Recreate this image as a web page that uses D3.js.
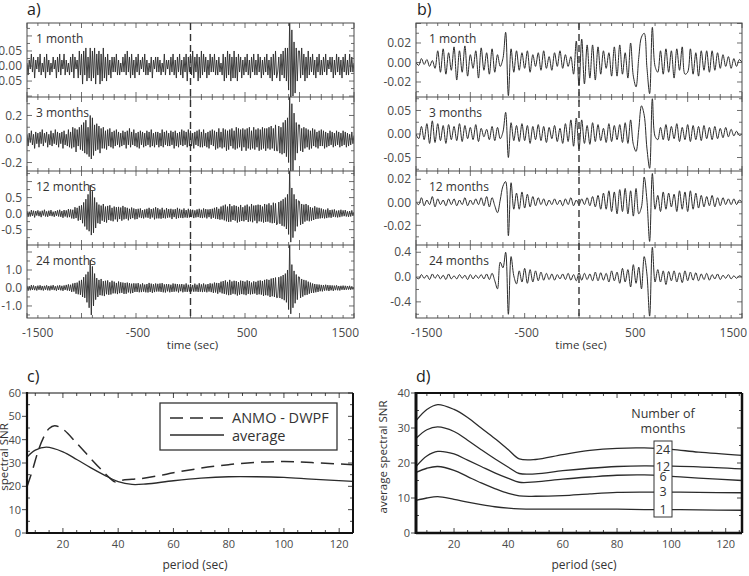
<!DOCTYPE html>
<html><head><meta charset="utf-8">
<script src="https://cdn.jsdelivr.net/npm/d3@7"></script>
<style>
body{margin:0;background:#fff}
svg{display:block}
text{font-family:"Open Sans","Noto Sans",sans-serif}
</style>
</head><body>
<svg id="chart" width="749" height="576"></svg>
<script>
// ---------------- DATA ----------------
const rowLabels = ["1 month", "3 months", "12 months", "24 months"];
const timeTicks = [-1500, -500, 500, 1500];
const timeTickLabels = ["-1500", "-500", "500", "1500"];

const aDomains = [[-0.103, 0.143], [-0.272, 0.357], [-0.98, 1.33], [-1.67, 2.39]];
const aYTicks = [[-0.05, 0, 0.05], [-0.2, 0, 0.2], [-0.5, 0, 0.5], [-1, 0, 1]];
const aYDec = [2, 1, 1, 1];
const bDomains = [[-0.0354, 0.0405], [-0.0787, 0.0787], [-0.0371, 0.0272], [-0.66, 0.517]];
const bYTicks = [[-0.02, 0, 0.02], [-0.05, 0, 0.05], [-0.02, 0, 0.02], [-0.4, 0, 0.4]];
const bYDec = [2, 2, 2, 1];

const aTimes = d3.range(-1500, 1501, 10);
const bTimes = d3.range(-1500, 1501, 25);

// panel a) broadband cross-correlations (10 s samples)
const a1 = [
.01,-.03,.02,-.01,.04,-.02,.03,-.04,.02,-.01,
.03,-.02,.04,-.03,.01,-.02,.03,-.04,.04,-.02,
.02,-.03,.01,-.02,.03,-.01,.02,-.04,.03,-.02,
.04,-.03,.02,-.01,.04,-.03,.02,-.02,.01,-.03,
.03,-.02,.04,-.04,.03,-.01,.02,-.04,.05,-.03,
.04,-.06,.05,-.03,.06,-.05,.03,-.04,.06,-.05,
.05,-.04,.06,-.06,.04,-.03,.05,-.06,.04,-.05,
.06,-.04,.03,-.05,.04,-.03,.02,-.04,.03,-.02,
.03,-.02,.04,-.03,.02,-.03,.01,-.02,.03,-.02,
.04,-.03,.05,-.02,.03,-.04,.04,-.03,.02,-.04,
.03,-.02,.04,-.03,.02,-.01,.03,-.02,.04,-.03,
.02,-.03,.01,-.02,.03,-.04,.02,-.01,.03,-.02,
.03,-.02,.02,-.03,.01,-.02,.04,-.03,.02,-.01,
.02,-.03,.03,-.02,.04,-.03,.02,-.04,.03,-.02,
.04,-.03,.02,-.04,.03,-.02,.04,-.05,.03,-.02,
.04,-.03,.05,-.04,.03,-.02,.04,-.05,.03,-.04,
.05,-.03,.04,-.02,.03,-.04,.02,-.03,.04,-.02,
.03,-.02,.04,-.03,.02,-.03,.03,-.02,.01,-.03,
.04,-.05,.03,-.04,.05,-.03,.04,-.05,.03,-.04,
.05,-.04,.03,-.05,.04,-.02,.03,-.04,.02,-.03,
.03,-.02,.04,-.03,.02,-.04,.03,-.02,.04,-.03,
.02,-.03,.04,-.02,.03,-.04,.02,-.03,.03,-.02,
.04,-.03,.02,-.04,.03,-.05,.04,-.03,.05,-.04,
-.02,.03,-.05,.04,-.03,.05,-.04,.06,-.05,.06,
-.08,.16,-.11,.12,-.10,.08,-.09,.06,-.05,.05,
.05,-.04,.06,-.03,.04,-.05,.03,-.04,.05,-.03,
.03,-.02,.04,-.03,.02,-.04,.03,-.02,.04,-.03,
.02,-.03,.03,-.02,.04,-.03,.02,-.01,.03,-.02,
.03,-.04,.02,-.03,.04,-.02,.03,-.03,.02,-.04,
.03,-.02,.04,-.03,.02,-.03,.04,-.02,.03,-.02,
.01];
const a2 = [
.04,-.06,.05,-.03,.07,-.05,.04,-.08,.06,-.04,
.05,-.07,.06,-.04,.08,-.06,.05,-.03,.06,-.07,
.04,-.05,.07,-.06,.05,-.04,.08,-.05,.06,-.07,
.05,-.04,.06,-.08,.07,-.05,.04,-.06,.08,-.07,
.06,-.08,.10,-.07,.09,-.11,.08,-.06,.10,-.09,
.12,-.10,.14,-.12,.16,-.13,.10,-.15,.20,-.17,
.18,-.14,.12,-.10,.13,-.09,.11,-.12,.09,-.08,
.10,-.08,.07,-.09,.08,-.06,.09,-.07,.06,-.08,
.07,-.06,.08,-.05,.06,-.07,.05,-.06,.07,-.05,
.06,-.08,.07,-.05,.09,-.07,.06,-.05,.08,-.06,
.05,-.07,.06,-.08,.07,-.05,.06,-.07,.05,-.06,
.07,-.05,.06,-.07,.08,-.06,.05,-.07,.06,-.05,
.06,-.07,.05,-.06,.08,-.07,.06,-.05,.07,-.06,
.05,-.06,.07,-.05,.06,-.08,.07,-.06,.05,-.07,
.06,-.05,.08,-.06,.07,-.05,.06,-.07,.08,-.06,
.07,-.06,.05,-.08,.06,-.05,.07,-.06,.08,-.07,
.06,-.07,.08,-.06,.05,-.07,.06,-.08,.07,-.05,
.08,-.06,.07,-.09,.06,-.08,.09,-.07,.06,-.08,
.09,-.07,.08,-.10,.07,-.09,.08,-.06,.09,-.08,
.07,-.09,.10,-.08,.09,-.07,.08,-.10,.09,-.07,
.08,-.10,.09,-.08,.10,-.09,.07,-.08,.10,-.09,
.08,-.07,.09,-.10,.08,-.09,.10,-.08,.09,-.10,
.09,-.08,.10,-.09,.11,-.08,.09,-.10,.12,-.10,
-.10,.11,-.12,.10,-.13,.14,-.12,.16,-.15,.18,
-.20,.38,-.28,.30,-.27,.22,-.18,.14,-.12,.12,
.12,-.10,.09,-.11,.10,-.08,.09,-.07,.08,-.09,
.07,-.08,.09,-.06,.08,-.07,.06,-.08,.07,-.06,
.08,-.06,.07,-.08,.06,-.07,.05,-.06,.07,-.05,
.06,-.07,.05,-.06,.07,-.05,.06,-.07,.05,-.06,
.07,-.05,.06,-.07,.05,-.06,.04,-.05,.06,-.04,
.03];
const a3 = [
.08,-.10,.06,-.09,.11,-.07,.09,-.12,.08,-.06,
.10,-.08,.07,-.11,.09,-.06,.12,-.09,.07,-.10,
.09,-.07,.11,-.08,.06,-.10,.08,-.07,.10,-.09,
.12,-.10,.08,-.13,.11,-.09,.10,-.12,.14,-.11,
.13,-.15,.12,-.16,.20,-.14,.18,-.22,.24,-.20,
.26,-.30,.35,-.40,.45,-.50,.60,-.55,.89,-.67,
.70,-.60,.50,-.45,.35,-.30,.28,-.32,.25,-.22,
.30,-.26,.22,-.28,.24,-.20,.26,-.22,.18,-.24,
.22,-.18,.20,-.25,.21,-.17,.19,-.22,.24,-.18,
.20,-.16,.18,-.21,.15,-.17,.19,-.14,.16,-.18,
.14,-.17,.15,-.12,.16,-.14,.11,-.15,.13,-.12,
.15,-.13,.18,-.16,.14,-.12,.16,-.18,.20,-.15,
.17,-.15,.13,-.16,.18,-.14,.12,-.15,.17,-.13,
.14,-.12,.15,-.17,.13,-.11,.14,-.16,.18,-.14,
.15,-.13,.12,-.14,.16,-.12,.11,-.13,.15,-.12,
.13,-.11,.12,-.14,.10,-.12,.13,-.11,.15,-.13,
.12,-.14,.16,-.12,.14,-.15,.13,-.11,.14,-.16,
.15,-.13,.18,-.16,.20,-.17,.15,-.19,.22,-.18,
.25,-.21,.28,-.24,.22,-.26,.30,-.25,.23,-.20,
.26,-.22,.24,-.28,.21,-.25,.27,-.23,.20,-.24,
.25,-.20,.28,-.26,.22,-.24,.30,-.27,.25,-.22,
.26,-.30,.28,-.24,.27,-.25,.22,-.28,.30,-.26,
.28,-.25,.32,-.28,.26,-.30,.34,-.29,.32,-.35,
-.30,.36,-.32,.40,-.38,.45,-.40,.50,-.48,.60,
-.65,1.40,-.89,.80,-.75,.60,-.55,.45,-.40,.40,
.38,-.35,.30,-.32,.28,-.25,.30,-.22,.26,-.24,
.20,-.22,.18,-.20,.23,-.17,.19,-.16,.18,-.15,
.16,-.14,.13,-.15,.12,-.14,.16,-.12,.11,-.13,
.12,-.10,.13,-.11,.09,-.12,.10,-.11,.12,-.09,
.10,-.08,.11,-.09,.07,-.10,.08,-.09,.10,-.07,
.05];
const a4 = [
.12,-.15,.10,-.13,.16,-.11,.14,-.12,.10,-.14,
.13,-.10,.15,-.12,.11,-.14,.12,-.10,.15,-.13,
.11,-.14,.13,-.10,.16,-.12,.10,-.15,.13,-.11,
.15,-.13,.12,-.16,.14,-.11,.17,-.14,.20,-.16,
.18,-.22,.25,-.20,.28,-.32,.30,-.35,.40,-.38,
.45,-.50,.60,-.55,.75,-.80,.90,-1.10,1.55,-1.50,
1.20,-1.00,.80,-.65,.55,-.50,.45,-.40,.50,-.42,
.38,-.45,.40,-.35,.42,-.38,.32,-.36,.40,-.30,
.35,-.30,.28,-.34,.36,-.29,.32,-.27,.30,-.33,
.28,-.32,.30,-.25,.27,-.30,.24,-.28,.26,-.22,
.25,-.22,.27,-.24,.20,-.23,.26,-.21,.19,-.24,
.22,-.25,.28,-.22,.24,-.27,.21,-.23,.25,-.20,
.23,-.20,.25,-.22,.27,-.24,.20,-.25,.22,-.19,
.21,-.24,.18,-.22,.25,-.21,.23,-.19,.22,-.25,
.20,-.18,.22,-.24,.19,-.21,.25,-.22,.18,-.20,
.22,-.19,.17,-.21,.24,-.20,.18,-.22,.26,-.21,
.20,-.23,.25,-.21,.19,-.24,.22,-.20,.26,-.23,
.24,-.27,.30,-.25,.28,-.32,.27,-.24,.35,-.30,
.38,-.33,.42,-.36,.34,-.40,.45,-.38,.36,-.32,
.40,-.35,.38,-.42,.33,-.37,.41,-.34,.39,-.36,
.35,-.40,.42,-.33,.38,-.36,.30,-.34,.37,-.31,
.34,-.38,.40,-.35,.42,-.37,.39,-.44,.45,-.40,
.48,-.42,.45,-.50,.52,-.46,.55,-.50,.58,-.54,
-.52,.60,-.56,.65,-.62,.72,-.68,.80,-.80,1.00,
-1.20,2.50,-1.44,1.30,-1.10,.95,-.85,.75,-.65,.62,
.60,-.55,.50,-.48,.45,-.40,.42,-.38,.35,-.32,
.30,-.28,.25,-.27,.22,-.24,.20,-.22,.19,-.18,
.17,-.19,.16,-.15,.18,-.14,.16,-.17,.15,-.13,
.14,-.16,.13,-.12,.15,-.13,.11,-.14,.12,-.10,
.13,-.11,.12,-.10,.11,-.09,.12,-.10,.09,-.08,
.05];

// panel b) filtered cross-correlations (25 s samples)
const b1 = [
0,-.003,.004,-.002,.003,-.004,.002,-.006,.012,-.010,
.014,-.012,.010,-.008,.016,-.018,.012,-.010,.017,-.014,
.008,-.006,.012,-.016,.015,-.008,.010,-.012,.014,-.010,
.008,-.004,.004,.031,-.034,.014,-.010,.012,-.008,.010,
-.006,.012,-.010,.008,-.004,.010,-.008,.012,-.006,.006,
-.008,.010,-.004,.012,-.006,.008,-.004,.006,-.012,.022,
-.024,.024,-.022,.018,-.016,.018,-.018,.016,-.012,.012,
-.006,.010,-.014,.016,-.014,.018,-.012,.010,-.016,.020,
-.014,-.025,.005,.026,.030,-.005,-.032,.036,-.004,-.010,
.012,-.012,.014,-.010,.012,-.016,.014,-.008,.016,-.012,
-.010,.014,-.012,.010,-.014,.012,-.008,.012,-.010,.012,
-.008,.010,-.006,.008,-.004,.006,-.006,.004,-.004,.003,
0];
const b2 = [
0,-.010,.016,-.012,.022,-.020,.028,-.018,.022,-.014,
.018,-.020,.020,-.012,.016,-.014,.022,-.016,.018,-.010,
.014,-.012,.020,-.016,.012,-.006,.010,-.012,.016,-.014,
.014,-.010,.004,.046,-.050,.024,-.014,.018,-.016,.022,
-.014,.018,-.020,.016,-.012,.020,-.014,.016,-.018,.014,
-.010,.018,-.016,.012,-.020,.022,-.016,.030,-.026,.034,
-.032,.030,-.020,.018,-.022,.024,-.016,.020,-.014,.012,
-.018,.022,-.016,.018,-.012,.020,-.018,.024,-.020,.030,
-.022,-.037,.010,.060,.040,-.030,-.073,.075,-.005,-.012,
.014,-.012,.020,-.014,.016,-.010,.022,-.016,.014,-.012,
.020,-.016,.018,-.012,.016,-.014,.018,-.010,.014,-.012,
.016,-.010,.012,-.008,.014,-.006,.010,-.004,.006,-.003,
0];
const b3 = [
0,-.002,.004,-.003,.002,-.002,.005,-.004,.003,-.002,
.002,-.003,.003,-.002,.003,-.003,.002,-.002,.004,-.003,
.002,-.002,.003,-.002,.004,-.003,.005,-.004,.004,-.003,
-.009,.002,.014,.018,-.029,.017,-.006,.008,-.006,.009,
-.005,.007,-.004,.005,-.003,.004,-.002,.003,-.003,.002,
-.002,.003,-.002,.002,-.003,.003,-.002,.004,-.003,.002,
-.002,.003,-.002,.004,-.003,.005,-.004,.006,-.006,.008,
-.006,.010,-.008,.009,-.010,.011,-.008,.012,-.010,.010,
-.012,.012,-.010,-.004,.022,.002,-.034,.025,-.006,.006,
-.008,.009,-.006,.008,-.004,.007,-.008,.010,-.006,.009,
-.008,.010,-.006,.008,-.005,.006,-.004,.005,-.003,.006,
-.004,.004,-.003,.004,-.002,.003,-.002,.003,-.002,.002,
0];
const b4 = [
0,-.03,.04,-.02,.03,-.04,.05,-.02,.04,-.03,
.03,-.04,.05,-.03,.02,-.03,.04,-.02,.03,-.04,
.04,-.03,.03,-.02,.04,-.03,.05,-.04,.06,-.06,
-.19,.24,.15,.40,-.60,.33,.02,-.11,.10,-.08,
.14,-.10,.12,-.08,.10,-.06,.08,-.05,.06,-.04,
.05,-.05,.04,-.03,.05,-.04,.06,-.05,.04,-.06,
.07,-.05,.06,-.04,.05,-.06,.08,-.06,.07,-.05,
.06,-.08,.10,-.06,.08,-.10,.14,-.08,.12,-.16,
.20,-.10,.16,-.19,.33,.05,-.63,.48,-.08,.12,
-.08,.10,-.12,.09,-.06,.10,-.08,.07,-.09,.10,
-.06,.08,-.05,.07,-.06,.05,-.04,.06,-.05,.04,
-.03,.05,-.04,.03,-.02,.04,-.03,.02,-.02,.02,
0];

// panel c)
const cPeriodAvg = [7, 10, 14, 20, 25, 30, 35, 40, 45, 50, 60, 70, 80, 90, 100, 110, 125];
const cSnrAvg = [32.5, 35.5, 36.8, 34.8, 31.5, 28, 24.8, 22, 20.8, 21, 22.4, 23.5, 24.1, 24.1, 23.8, 23.1, 22.1];
const cPeriodPair = [7, 9, 11, 13, 15, 17, 20, 25, 30, 34, 37, 39, 41, 45, 48, 55, 60, 70, 80, 90, 100, 110, 125];
const cSnrPair = [19.8, 27, 35, 41, 44.8, 46, 44.5, 38.5, 32, 27, 23.5, 21.8, 22.5, 23, 23.3, 24.6, 25.8, 27.8, 29.3, 30.3, 30.6, 30.2, 29.3];
const cLegend = ["ANMO - DWPF", "average"];

// panel d)
const dPeriod = [6, 10, 14, 20, 25, 30, 35, 40, 44, 50, 60, 70, 80, 90, 100, 110, 126];
const d24 = [32.1, 35.3, 36.7, 35.3, 33, 30, 27, 23.8, 21.2, 21, 22.4, 23.6, 24.2, 24.3, 23.9, 23.1, 22.2];
const d12 = [27, 29.5, 30.3, 29, 26.5, 23.8, 21.2, 18.8, 17, 16.9, 17.8, 18.5, 19, 19.2, 19.1, 18.9, 18.3];
const d6  = [19, 22, 23.3, 22.6, 20.8, 19, 17.2, 15.6, 14.5, 14.6, 15.4, 16, 16.5, 16.6, 16.2, 15.7, 15];
const d3m = [17.3, 18.5, 19, 17.9, 16.1, 14.3, 12.7, 11.3, 10.6, 10.5, 10.7, 11.2, 11.6, 11.7, 11.7, 11.6, 11.5];
const d1  = [9.3, 10, 10.4, 9.6, 8.8, 8.1, 7.5, 7.1, 6.9, 6.8, 6.8, 6.8, 6.8, 6.7, 6.7, 6.6, 6.5];
const dSeries = [d24, d12, d6, d3m, d1];
const dLabels = ["24", "12", "6", "3", "1"];

// ---------------- DRAW ----------------
const svg = d3.select("#chart");
const INK = "#2b2b2b", GREY = "#4a4a4a";

function panelLetter(x, y, s) {
  svg.append("text").attr("x", x).attr("y", y).attr("font-size", 16).attr("fill", "#222").text(s);
}

function wavePanel(x0, x1, series, times, domains, yTicks, yDec, curve, sw, id) {
  const rows = [23, 97, 171, 245, 318];
  const x = d3.scaleLinear().domain([-1500, 1500]).range([x0, x1]);
  series.forEach((vals, k) => {
    const top = rows[k], bot = rows[k + 1];
    const y = d3.scaleLinear().domain(domains[k]).range([bot, top]);
    const cid = `clip${id}${k}`;
    svg.append("clipPath").attr("id", cid).append("rect")
      .attr("x", x0).attr("y", top).attr("width", x1 - x0).attr("height", bot - top);
    svg.append("path").datum(vals).attr("clip-path", `url(#${cid})`)
      .attr("d", d3.line().defined((d, i) => i < times.length)
        .x((d, i) => x(times[i])).y(d => y(d)).curve(curve))
      .attr("fill", "none").attr("stroke", INK).attr("stroke-width", sw);
    const step = yTicks[k][2] - yTicks[k][1], h = step / 2;
    const g = svg.append("g").attr("stroke", GREY).attr("stroke-width", 0.8);
    for (let m = Math.ceil(domains[k][0] / h); m <= Math.floor(domains[k][1] / h); m++) {
      const yy = y(m * h), len = (m % 2 === 0) ? 5 : 3;
      g.append("line").attr("x1", x0).attr("x2", x0 + len).attr("y1", yy).attr("y2", yy);
      g.append("line").attr("x1", x1).attr("x2", x1 - len).attr("y1", yy).attr("y2", yy);
    }
    for (let t = -1500; t <= 1500; t += 100) {
      const xx = x(t), len = (t % 500 === 0) ? 5 : 3;
      g.append("line").attr("x1", xx).attr("x2", xx).attr("y1", top).attr("y2", top + len);
      g.append("line").attr("x1", xx).attr("x2", xx).attr("y1", bot).attr("y2", bot - len);
    }
    yTicks[k].forEach(v => {
      svg.append("text").attr("x", x0 - 5).attr("y", y(v)).attr("dy", "0.35em")
        .attr("text-anchor", "end").attr("font-size", 12).attr("fill", GREY)
        .text(v.toFixed(yDec[k]));
    });
    svg.append("text").attr("x", x0 + (id === "a" ? 9 : 13)).attr("y", top + 20)
      .attr("font-size", 12).attr("fill", "#333").text(rowLabels[k]);
  });
  svg.append("rect").attr("x", x0).attr("y", rows[0]).attr("width", x1 - x0)
    .attr("height", rows[4] - rows[0]).attr("fill", "none").attr("stroke", GREY).attr("stroke-width", 1);
  [1, 2, 3].forEach(r => svg.append("line").attr("x1", x0).attr("x2", x1)
    .attr("y1", rows[r]).attr("y2", rows[r]).attr("stroke", GREY).attr("stroke-width", 1));
  svg.append("line").attr("x1", x(0)).attr("x2", x(0)).attr("y1", rows[0]).attr("y2", rows[4])
    .attr("stroke", "#333").attr("stroke-width", 1.4).attr("stroke-dasharray", "7,4");
  timeTicks.forEach((t, i) => {
    const anchor = i === 0 ? "start" : (i === timeTicks.length - 1 ? "end" : "middle");
    const dx = i === 0 ? -5 : (i === timeTicks.length - 1 ? 5 : 2);
    svg.append("text").attr("x", x(t) + dx).attr("y", 337).attr("text-anchor", anchor)
      .attr("font-size", 12).attr("fill", GREY).text(timeTickLabels[i]);
  });
  svg.append("text").attr("x", x(0) + 2).attr("y", 349).attr("text-anchor", "middle")
    .attr("font-size", 11.5).attr("fill", "#333").text("time (sec)");
}

wavePanel(27, 354, [a1, a2, a3, a4], aTimes, aDomains, aYTicks, aYDec, d3.curveLinear, 0.9, "a");
wavePanel(416, 742, [b1, b2, b3, b4], bTimes, bDomains, bYTicks, bYDec, d3.curveCatmullRom.alpha(0.5), 1, "b");
panelLetter(27, 15, "a)");
panelLetter(417, 15, "b)");

function snrFrame(x0, x1, xDom, yMax, yStep, ylabel, ylabelX, thick, id) {
  const top = 393, bot = 533;
  const x = d3.scaleLinear().domain(xDom).range([x0, x1]);
  const y = d3.scaleLinear().domain([0, yMax]).range([bot, top]);
  const g = svg.append("g").attr("stroke", "#333").attr("stroke-width", 0.9);
  for (let v = 5; v <= xDom[1]; v += 5) {
    if (v < xDom[0]) continue;
    const len = v % 20 === 0 ? 5 : 3;
    g.append("line").attr("x1", x(v)).attr("x2", x(v)).attr("y1", bot).attr("y2", bot - len);
    g.append("line").attr("x1", x(v)).attr("x2", x(v)).attr("y1", top).attr("y2", top + len);
  }
  for (let v = 0; v <= yMax; v += yStep / 2) {
    const major = Math.abs(v / yStep - Math.round(v / yStep)) < 1e-6;
    if (major) g.append("line").attr("x1", x0 - 5).attr("x2", x0).attr("y1", y(v)).attr("y2", y(v));
    else g.append("line").attr("x1", x0).attr("x2", x0 + 3).attr("y1", y(v)).attr("y2", y(v));
    g.append("line").attr("x1", x1).attr("x2", x1 - (major ? 5 : 3)).attr("y1", y(v)).attr("y2", y(v));
  }
  d3.range(0, yMax + 1, yStep).forEach(v => {
    svg.append("text").attr("x", x0 - 6).attr("y", y(v)).attr("dy", "0.35em")
      .attr("text-anchor", "end").attr("font-size", 11).attr("fill", GREY).text(v);
  });
  [20, 40, 60, 80, 100, 120].forEach(v => {
    svg.append("text").attr("x", x(v)).attr("y", 548).attr("text-anchor", "middle")
      .attr("font-size", 11).attr("fill", GREY).text(v);
  });
  svg.append("text").attr("x", (x0 + x1) / 2 + 5).attr("y", 569).attr("text-anchor", "middle")
    .attr("font-size", 12).attr("fill", "#333").text("period (sec)");
  svg.append("text").attr("transform", `translate(${ylabelX},${(top + bot) / 2 - 6}) rotate(-90)`)
    .attr("text-anchor", "middle").attr("font-size", 11.5).attr("fill", "#333").text(ylabel);
  svg.append("clipPath").attr("id", "clip" + id).append("rect")
    .attr("x", x0).attr("y", top).attr("width", x1 - x0).attr("height", bot - top);
  return { x, y, top, bot, draw: () => {
    svg.append("line").attr("x1", x0).attr("x2", x1).attr("y1", top).attr("y2", top).attr("stroke", "#111").attr("stroke-width", thick[0]);
    svg.append("line").attr("x1", x1).attr("x2", x1).attr("y1", top).attr("y2", bot).attr("stroke", "#111").attr("stroke-width", thick[1]);
    svg.append("line").attr("x1", x0).attr("x2", x1).attr("y1", bot).attr("y2", bot).attr("stroke", "#111").attr("stroke-width", thick[2]);
    svg.append("line").attr("x1", x0).attr("x2", x0).attr("y1", top - 1).attr("y2", bot + 1).attr("stroke", "#111").attr("stroke-width", thick[3]);
  }};
}

// panel c
const C = snrFrame(27, 353, [7, 125], 60, 10, "spectral SNR", 8, [1, 2, 2, 2.2], "c");
const lineC = (xs) => d3.line().x((d, i) => C.x(xs[i])).y(d => C.y(d)).curve(d3.curveCatmullRom.alpha(0.5));
svg.append("path").datum(cSnrPair).attr("clip-path", "url(#clipc)").attr("d", lineC(cPeriodPair))
  .attr("fill", "none").attr("stroke", INK).attr("stroke-width", 1.5).attr("stroke-dasharray", "13,7");
svg.append("path").datum(cSnrAvg).attr("clip-path", "url(#clipc)").attr("d", lineC(cPeriodAvg))
  .attr("fill", "none").attr("stroke", INK).attr("stroke-width", 1.3);
C.draw();
svg.append("rect").attr("x", 160).attr("y", 403).attr("width", 177).attr("height", 47)
  .attr("fill", "#fff").attr("stroke", "#333").attr("stroke-width", 1.3);
svg.append("line").attr("x1", 170).attr("x2", 224).attr("y1", 418).attr("y2", 418)
  .attr("stroke", INK).attr("stroke-width", 1.5).attr("stroke-dasharray", "13,7");
svg.append("line").attr("x1", 170).attr("x2", 224).attr("y1", 435).attr("y2", 435)
  .attr("stroke", INK).attr("stroke-width", 1.3);
svg.append("text").attr("x", 232).attr("y", 423).attr("font-size", 14.5).attr("fill", "#333").text(cLegend[0]);
svg.append("text").attr("x", 232).attr("y", 441).attr("font-size", 14.5).attr("fill", "#333").text(cLegend[1]);
panelLetter(27, 382, "c)");

// panel d
const D = snrFrame(416, 742, [6, 126], 40, 10, "average spectral SNR", 387, [2, 2.5, 2.5, 3], "d");
const lineD = d3.line().x((d, i) => D.x(dPeriod[i])).y(d => D.y(d)).curve(d3.curveCatmullRom.alpha(0.5));
dSeries.forEach(s => svg.append("path").datum(s).attr("clip-path", "url(#clipd)").attr("d", lineD)
  .attr("fill", "none").attr("stroke", INK).attr("stroke-width", 1.3));
D.draw();
svg.append("rect").attr("x", 654).attr("y", 441).attr("width", 18).attr("height", 76)
  .attr("fill", "#fff").attr("stroke", "#333").attr("stroke-width", 1);
dSeries.forEach((s, i) => {
  svg.append("text").attr("x", 663).attr("y", D.y(s[dPeriod.indexOf(100)])).attr("dy", "0.35em")
    .attr("text-anchor", "middle").attr("font-size", 12.5).attr("fill", "#333").text(dLabels[i]);
});
svg.append("text").attr("x", 663).attr("y", 418).attr("text-anchor", "middle").attr("font-size", 12.5).attr("fill", "#333").text("Number of");
svg.append("text").attr("x", 663).attr("y", 433).attr("text-anchor", "middle").attr("font-size", 12.5).attr("fill", "#333").text("months");
panelLetter(416, 382, "d)");
</script>
</body></html>
